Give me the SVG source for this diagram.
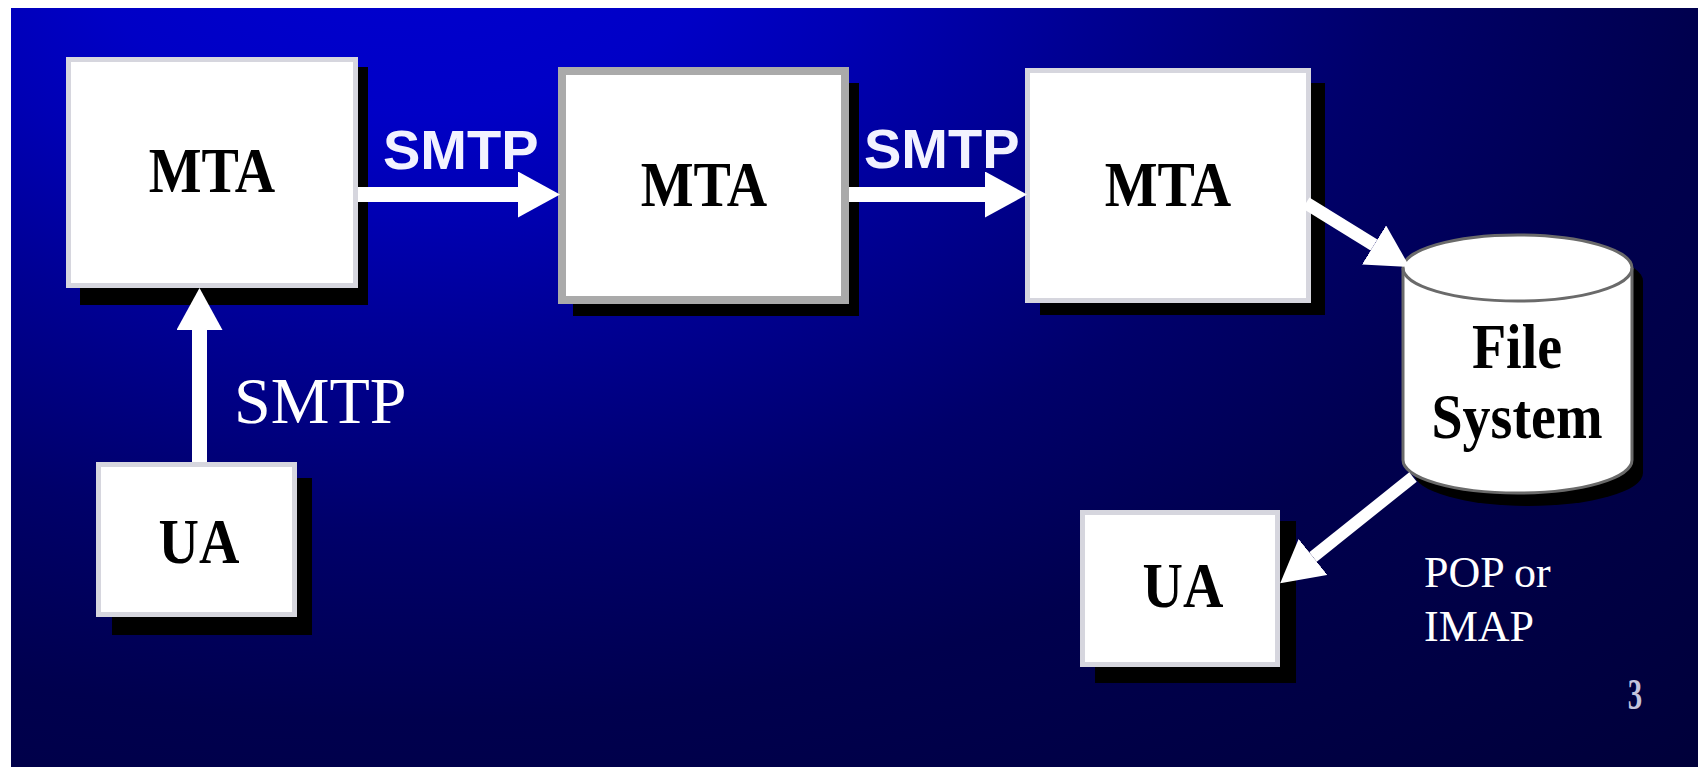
<svg xmlns="http://www.w3.org/2000/svg" width="1698" height="767" viewBox="0 0 1698 767">
  <defs>
    <radialGradient id="bg" gradientUnits="userSpaceOnUse" cx="0" cy="0" r="1900" gradientTransform="translate(400 -100) scale(1 0.625)">
      <stop offset="0" stop-color="#0000d2"/>
      <stop offset="0.18" stop-color="#0000c6"/>
      <stop offset="0.26" stop-color="#0000b4"/>
      <stop offset="0.37" stop-color="#000094"/>
      <stop offset="0.53" stop-color="#00006a"/>
      <stop offset="0.69" stop-color="#00004e"/>
      <stop offset="1" stop-color="#00003a"/>
    </radialGradient>
    <marker id="head" markerUnits="userSpaceOnUse" markerWidth="42" markerHeight="46" viewBox="0 0 42 46" refX="0" refY="23" orient="auto">
      <path d="M0,0 L42,23 L0,46 Z" fill="#ffffff"/>
    </marker>
  </defs>
  <style>
    .shadow { fill: #000000; }
    .box { fill: #ffffff; stroke: #d6d6de; stroke-width: 5; }
    .box2 { fill: #ffffff; stroke: #aaaaaa; stroke-width: 8; }
    .node { font-family: "Liberation Serif", "Times New Roman", serif; font-weight: bold; font-size: 56px; fill: #000000; text-anchor: middle; }
    .conn { stroke: #ffffff; fill: none; marker-end: url(#head); }
    .lbl-b { font-family: "Liberation Sans", Arial, sans-serif; font-weight: bold; font-size: 56px; fill: #f2f2ff; }
    .lbl { font-family: "Liberation Serif", "Times New Roman", serif; fill: #ffffff; }
  </style>

  <rect x="0" y="0" width="1698" height="767" fill="#ffffff"/>
  <rect x="11" y="8" width="1687" height="759" fill="url(#bg)"/>

  <g id="mta1">
    <rect class="shadow" x="80" y="67" width="288" height="238"/>
    <rect class="box" x="68.5" y="59.5" width="287" height="226"/>
    <text class="node" transform="translate(212 192) scale(1 1.15)">MTA</text>
  </g>

  <g id="mta2">
    <rect class="shadow" x="573" y="83" width="286" height="233"/>
    <rect class="box2" x="562" y="71" width="283" height="229"/>
    <text class="node" transform="translate(704 206) scale(1 1.15)">MTA</text>
  </g>

  <g id="mta3">
    <rect class="shadow" x="1040" y="83" width="285" height="232"/>
    <rect class="box" x="1027.5" y="70.5" width="281" height="230"/>
    <text class="node" transform="translate(1168 206) scale(1 1.15)">MTA</text>
  </g>

  <g id="ua1">
    <rect class="shadow" x="112" y="478" width="200" height="157"/>
    <rect class="box" x="98.5" y="464.5" width="196" height="150"/>
    <text class="node" transform="translate(199 563) scale(1 1.15)">UA</text>
  </g>

  <g id="ua2">
    <rect class="shadow" x="1095" y="521" width="201" height="162"/>
    <rect class="box" x="1082.5" y="512.5" width="195" height="152"/>
    <text class="node" transform="translate(1183 607) scale(1 1.15)">UA</text>
  </g>

  <g id="filesystem">
    <path class="shadow" transform="translate(11 13)" d="M1403,268 L1403,460 A114.5,33 0 0 0 1632,460 L1632,268 A114.5,33 0 0 0 1403,268 Z"/>
    <path d="M1403,268 L1403,460 A114.5,33 0 0 0 1632,460 L1632,268 A114.5,33 0 0 0 1403,268 Z" fill="#ffffff" stroke="#6a6a6a" stroke-width="3"/>
    <path d="M1403,268 A114.5,33 0 0 0 1632,268" fill="none" stroke="#6a6a6a" stroke-width="3"/>
    <text class="node" transform="translate(1517 368) scale(1 1.15)">File</text>
    <text class="node" transform="translate(1517 438) scale(1 1.15)">System</text>
  </g>

  <g id="connectors">
    <line class="conn" x1="358" y1="194.5" x2="518" y2="194.5" stroke-width="15"/>
    <line class="conn" x1="849" y1="194.5" x2="985" y2="194.5" stroke-width="15"/>
    <line class="conn" x1="199.5" y1="462" x2="199.5" y2="330" stroke-width="15"/>
    <line class="conn" x1="1306" y1="203" x2="1374" y2="245" stroke-width="13"/>
    <line class="conn" x1="1413" y1="477" x2="1313" y2="557" stroke-width="12"/>
  </g>

  <g id="labels">
    <text class="lbl-b" x="383" y="169">SMTP</text>
    <text class="lbl-b" x="864" y="168">SMTP</text>
    <text class="lbl" x="234" y="423" font-size="66">SMTP</text>
    <text class="lbl" x="1424" y="587" font-size="44">POP or</text>
    <text class="lbl" x="1424" y="641" font-size="44">IMAP</text>
    <text font-family="'Liberation Serif', serif" font-weight="bold" font-size="32" fill="#c4c4dc" text-anchor="middle" transform="translate(1635 709) scale(0.9 1.4)">3</text>
  </g>
</svg>
